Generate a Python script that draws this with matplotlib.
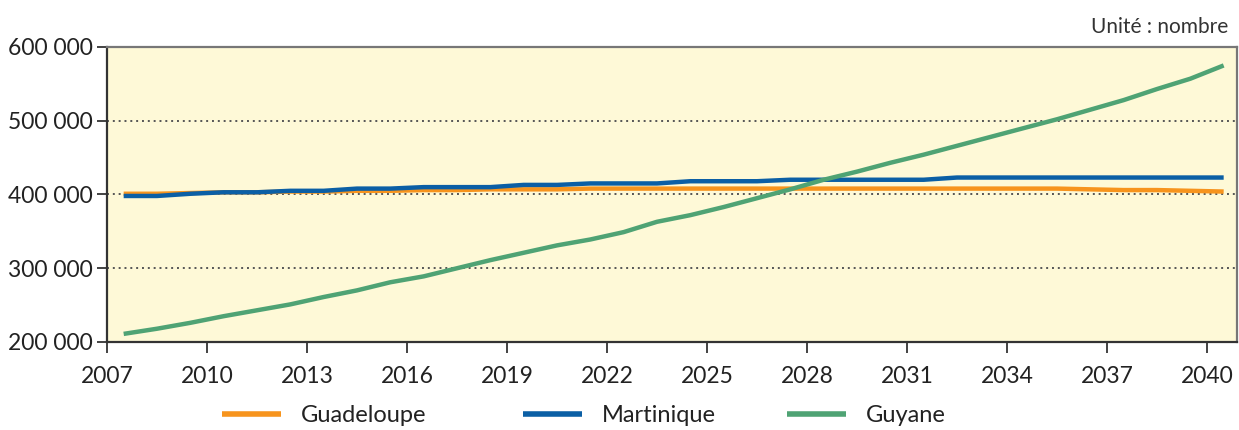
import matplotlib.pyplot as plt
from matplotlib.ticker import FuncFormatter

# années (points en milieu d'année)
years = [2007.5 + i for i in range(34)]

guadeloupe = [401, 401, 402, 403, 403, 404, 404, 405, 405, 406, 406, 407, 407, 407,
              408, 408, 408, 408, 408, 408, 408, 408, 408, 408, 408, 408, 408, 408,
              408, 407, 406, 406, 405, 404]
martinique = [398, 398, 401, 403, 403, 405, 405, 408, 408, 410, 410, 410, 413, 413,
              415, 415, 415, 418, 418, 418, 420, 420, 420, 420, 420, 423, 423, 423,
              423, 423, 423, 423, 423, 423]
guyane = [211, 218, 226, 235, 243, 251, 261, 270, 281, 289, 300, 311, 321, 331,
          339, 349, 363, 372, 383, 395, 407, 420, 431, 443, 454, 466, 478, 490,
          502, 515, 528, 543, 557, 575]

series = [
    ('Guadeloupe', guadeloupe, '#F7941D'),
    ('Martinique', martinique, '#0B5FA5'),
    ('Guyane', guyane, '#4FA374'),
]

xticks = list(range(2007, 2041, 3))
yticks = [200000, 300000, 400000, 500000, 600000]

plt.rcParams['font.family'] = ['Lato', 'DejaVu Sans']

fig = plt.figure(figsize=(12.39, 4.30), dpi=100)
ax = fig.add_axes([107 / 1239, 1 - 342 / 430, 1130 / 1239, 295 / 430])
ax.set_facecolor('#FEF9D7')

lines = []
for name, vals, col in series:
    ln, = ax.plot(years, [v * 1000 for v in vals], color=col, linewidth=3.2,
                  label=name, solid_capstyle='butt')
    lines.append(ln)

ax.set_xlim(2007, 2040.9)
ax.set_ylim(200000, 600000)
ax.set_xticks(xticks)
ax.set_yticks(yticks)
ax.yaxis.set_major_formatter(FuncFormatter(lambda v, p: f'{int(v):,}'.replace(',', ' ')))

for y in [300000, 400000, 500000]:
    ax.axhline(y, color='#555555', linestyle=(0, (1, 2)), linewidth=1.4, zorder=1)

ax.tick_params(axis='both', labelsize=16.5, colors='#222222', length=8, width=1.2,
               direction='out')
ax.tick_params(axis='x', pad=9)
ax.tick_params(axis='y', pad=3, length=7)
for s in ['left', 'bottom']:
    ax.spines[s].set_color('#333333')
    ax.spines[s].set_linewidth(1.6)
for s in ['top', 'right']:
    ax.spines[s].set_color('#777777')
    ax.spines[s].set_linewidth(1.6)

fig.text(1228 / 1239, 1 - 27 / 430, 'Unité : nombre', ha='right', va='center',
         fontsize=15, color='#333333')

# légende : une entrée par position
leg_x = [222, 523, 787]
for ln, x in zip(lines, leg_x):
    lg = fig.legend([ln], [ln.get_label()], loc='center left',
                    bbox_to_anchor=(x / 1239, 1 - 416 / 430), frameon=False,
                    fontsize=17, handlelength=2.5, handletextpad=0.85,
                    borderpad=0, borderaxespad=0)
    for h in lg.get_lines():
        h.set_linewidth(4)
    for t in lg.get_texts():
        t.set_color('#222222')

fig.savefig('out.png', dpi=100)
